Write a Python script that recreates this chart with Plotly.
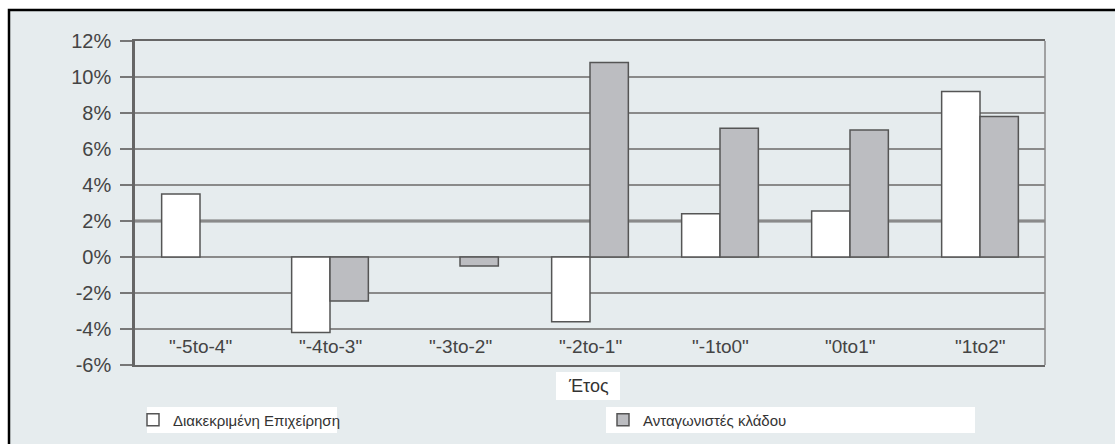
import plotly.graph_objects as go

categories = ['"-5to-4"', '"-4to-3"', '"-3to-2"', '"-2to-1"', '"-1to0"', '"0to1"', '"1to2"']
firm = [0.035, -0.042, None, -0.036, 0.024, 0.0255, 0.092]
competitors = [None, -0.0245, -0.005, 0.108, 0.0715, 0.0705, 0.078]
series_names = ["Διακεκριμένη Επιχείρηση", "Ανταγωνιστές κλάδου"]
y_ticks = [-0.06, -0.04, -0.02, 0, 0.02, 0.04, 0.06, 0.08, 0.10, 0.12]
y_labels = ["-6%", "-4%", "-2%", "0%", "2%", "4%", "6%", "8%", "10%", "12%"]
x_title = "Έτος"

W, H = 1115, 444
L, R, T, B = 135, 1045, 41, 365
pw, ph = R - L, B - T

def px(x):
    return (x - L) / pw

def py(y):
    return (B - y) / ph

font = "Liberation Sans, Arial, sans-serif"
txt = "#444444"

fig = go.Figure()
fig.add_trace(go.Bar(x=categories, y=firm, name=series_names[0], legend="legend",
                     marker=dict(color="white", line=dict(color="#555555", width=1.5))))
fig.add_trace(go.Bar(x=categories, y=competitors, name=series_names[1], legend="legend2",
                     marker=dict(color="#bcbdc1", line=dict(color="#555555", width=1.5))))

shapes = [
    dict(type="rect", xref="paper", yref="paper", x0=px(9), x1=px(1160), y0=py(490), y1=py(10),
         fillcolor="#e6ecee", line=dict(color="black", width=2.5), layer="below"),
    dict(type="rect", xref="paper", yref="paper", x0=px(556), x1=px(620), y0=py(400), y1=py(372),
         fillcolor="white", line=dict(width=0), layer="below"),
    dict(type="rect", xref="paper", yref="paper", x0=px(147), x1=px(337), y0=py(433), y1=py(407),
         fillcolor="white", line=dict(width=0), layer="below"),
    dict(type="rect", xref="paper", yref="paper", x0=px(606), x1=px(975), y0=py(433), y1=py(407),
         fillcolor="white", line=dict(width=0), layer="below"),
    dict(type="line", xref="paper", yref="paper", x0=1, x1=1, y0=0, y1=1,
         line=dict(color="#888888", width=1.5)),
    dict(type="line", xref="paper", yref="y", x0=0, x1=1, y0=0.02, y1=0.02,
         line=dict(color="#777777", width=3), layer="below"),
]

annotations = [
    dict(x=c, y=-0.0495, xref="x", yref="y", text=c, showarrow=False,
         xanchor="center", yanchor="middle", font=dict(size=19, color=txt))
    for c in categories
]
annotations.append(dict(x=px(588), y=py(386), xref="paper", yref="paper", text=x_title,
                        showarrow=False, xanchor="center", yanchor="middle",
                        font=dict(size=18, color="#333333")))

leg_common = dict(orientation="h", xref="container", yref="container",
                  xanchor="left", yanchor="middle", bgcolor="rgba(0,0,0,0)",
                  font=dict(size=15, color="#333333"), itemwidth=30)

fig.update_layout(
    width=W, height=H,
    margin=dict(l=L, r=W - R, t=T, b=H - B, pad=0),
    paper_bgcolor="white", plot_bgcolor="white",
    barmode="group", bargap=0.41, bargroupgap=0,
    font=dict(family=font, color=txt, size=14),
    shapes=shapes,
    annotations=annotations,
    showlegend=True,
    legend=dict(x=133 / W, y=(H - 420) / H, **leg_common),
    legend2=dict(x=603 / W, y=(H - 420) / H, **leg_common),
    xaxis=dict(showticklabels=False, ticks="", automargin=False,
               showline=True, linecolor="#666666", linewidth=2, mirror=True,
               showgrid=False),
    yaxis=dict(range=[-0.06, 0.12], tickvals=y_ticks, ticktext=y_labels, automargin=False,
               ticks="outside", ticklen=12, tickcolor="#777777", tickwidth=1.5,
               ticklabelstandoff=5,
               tickfont=dict(size=20, color=txt),
               showline=True, linecolor="#666666", linewidth=2.5,
               showgrid=True, gridcolor="#8a8a8a", gridwidth=1.5,
               zeroline=False),
)

fig.write_html("out.html", config={"displayModeBar": False},
               post_script="document.body.style.margin='0';")
